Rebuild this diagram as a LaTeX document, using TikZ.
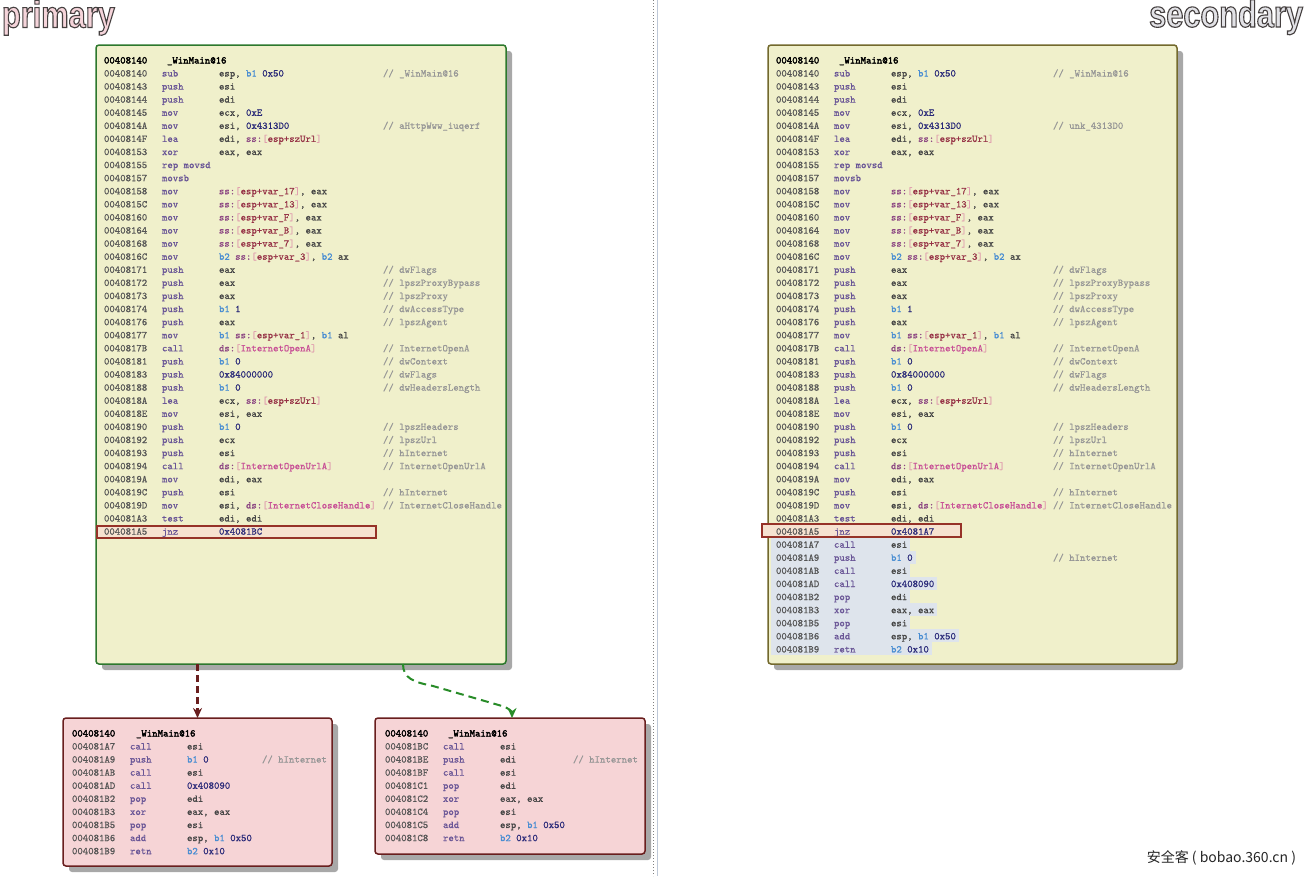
\documentclass[tikz,border=0pt]{standalone}
\usepackage{fontspec}
\usetikzlibrary{arrows.meta,shadows}
\newfontfamily\codefont{Latin Modern Mono}[FakeBold=0.6]
\newfontfamily\hdrfont{Latin Modern Mono}[FakeBold=2.5]
\newfontfamily\lblfont{Liberation Sans}[FakeStretch=0.82]
\newfontfamily\cjk{Noto Sans CJK SC}
\definecolor{cyel}{RGB}{240,240,203}
\definecolor{cgreen}{RGB}{45,120,45}
\definecolor{colive}{RGB}{115,105,45}
\definecolor{cpinkbox}{RGB}{246,212,214}
\definecolor{cdred}{RGB}{105,30,30}
\definecolor{cshadow}{RGB}{168,168,168}
\definecolor{caddr}{RGB}{85,85,85}
\definecolor{cmn}{RGB}{105,85,150}
\definecolor{creg}{RGB}{70,70,70}
\definecolor{cbb}{RGB}{70,140,210}
\definecolor{cnum}{RGB}{40,40,120}
\definecolor{cseg}{RGB}{140,70,130}
\definecolor{cbrk}{RGB}{225,160,175}
\definecolor{cmemc}{RGB}{150,50,70}
\definecolor{cimp}{RGB}{200,80,150}
\definecolor{ccom}{RGB}{150,150,150}
\definecolor{chlred}{RGB}{150,50,40}
\definecolor{chlfill}{RGB}{246,226,208}
\definecolor{crowhl}{RGB}{222,228,236}
\definecolor{cpinklbl}{RGB}{245,212,218}
\definecolor{cgreylbl}{RGB}{226,226,230}
\definecolor{cdiv}{RGB}{190,200,215}
\definecolor{carrg}{RGB}{40,140,40}
\newcommand\opB[1]{\textcolor{cbb}{#1}}
\newcommand\opN[1]{\textcolor{cnum}{#1}}
\newcommand\opS[1]{\textcolor{cseg}{#1}}
\newcommand\opM[1]{\textcolor{cbrk}{[}\textcolor{cmemc}{#1}\textcolor{cbrk}{]}}
\newcommand\opI[1]{\textcolor{cbrk}{[}\textcolor{cimp}{#1}\textcolor{cbrk}{]}}
\newcommand\outl[1]{\special{pdf:literal direct 2 Tr 1.1 w 0.27 0.25 0.25 RG}#1\special{pdf:literal direct 0 Tr}}
\newcounter{ln}
\newif\ifhl
\newcommand\boxcols[3]{\def\cA{#1}\def\cC{#2}\def\yb{#3}}
\newcommand\Rw[5]{%
  \stepcounter{ln}%
  \pgfmathsetmacro\yy{\yb+13.09*(#1)+3.5}%
  \node[sAddr] (a\arabic{ln}) at (\cA,\yy) {#2};
  \node[sMn] (m\arabic{ln}) at (\cA+58,\yy) {#3};
  \if\relax\detokenize{#4}\relax\else
    \node[sOp] (o\arabic{ln}) at (\cA+115,\yy) {#4};
    \ifhl
      \begin{pgfonlayer}{mid}
        \fill[crowhl] (771,\yy-10) rectangle ([xshift=3pt]o\arabic{ln}.east |- 0,\yy+3);
      \end{pgfonlayer}
    \fi
  \fi
  \if\relax\detokenize{#5}\relax\else
    \node[sCm] (c\arabic{ln}) at (\cC,\yy) {#5};
  \fi
}
\newcommand\mainrows[2]{%
  \Rw{0}{00408140}{sub}{esp, \opB{b1} \opN{0x50}}{// \_WinMain@16}
  \Rw{1}{00408143}{push}{esi}{}
  \Rw{2}{00408144}{push}{edi}{}
  \Rw{3}{00408145}{mov}{ecx, \opN{0xE}}{}
  \Rw{4}{0040814A}{mov}{esi, \opN{0x4313D0}}{// #1}
  \Rw{5}{0040814F}{lea}{edi, \opS{ss:}\opM{esp+szUrl}}{}
  \Rw{6}{00408153}{xor}{eax, eax}{}
  \Rw{7}{00408155}{rep movsd}{}{}
  \Rw{8}{00408157}{movsb}{}{}
  \Rw{9}{00408158}{mov}{\opS{ss:}\opM{esp+var\_17}, eax}{}
  \Rw{10}{0040815C}{mov}{\opS{ss:}\opM{esp+var\_13}, eax}{}
  \Rw{11}{00408160}{mov}{\opS{ss:}\opM{esp+var\_F}, eax}{}
  \Rw{12}{00408164}{mov}{\opS{ss:}\opM{esp+var\_B}, eax}{}
  \Rw{13}{00408168}{mov}{\opS{ss:}\opM{esp+var\_7}, eax}{}
  \Rw{14}{0040816C}{mov}{\opB{b2} \opS{ss:}\opM{esp+var\_3}, \opB{b2} ax}{}
  \Rw{15}{00408171}{push}{eax}{// dwFlags}
  \Rw{16}{00408172}{push}{eax}{// lpszProxyBypass}
  \Rw{17}{00408173}{push}{eax}{// lpszProxy}
  \Rw{18}{00408174}{push}{\opB{b1} \opN{1}}{// dwAccessType}
  \Rw{19}{00408176}{push}{eax}{// lpszAgent}
  \Rw{20}{00408177}{mov}{\opB{b1} \opS{ss:}\opM{esp+var\_1}, \opB{b1} al}{}
  \Rw{21}{0040817B}{call}{\opS{ds:}\opI{InternetOpenA}}{// InternetOpenA}
  \Rw{22}{00408181}{push}{\opB{b1} \opN{0}}{// dwContext}
  \Rw{23}{00408183}{push}{\opN{0x84000000}}{// dwFlags}
  \Rw{24}{00408188}{push}{\opB{b1} \opN{0}}{// dwHeadersLength}
  \Rw{25}{0040818A}{lea}{ecx, \opS{ss:}\opM{esp+szUrl}}{}
  \Rw{26}{0040818E}{mov}{esi, eax}{}
  \Rw{27}{00408190}{push}{\opB{b1} \opN{0}}{// lpszHeaders}
  \Rw{28}{00408192}{push}{ecx}{// lpszUrl}
  \Rw{29}{00408193}{push}{esi}{// hInternet}
  \Rw{30}{00408194}{call}{\opS{ds:}\opI{InternetOpenUrlA}}{// InternetOpenUrlA}
  \Rw{31}{0040819A}{mov}{edi, eax}{}
  \Rw{32}{0040819C}{push}{esi}{// hInternet}
  \Rw{33}{0040819D}{mov}{esi, \opS{ds:}\opI{InternetCloseHandle}}{// InternetCloseHandle}
  \Rw{34}{004081A3}{test}{edi, edi}{}
  \Rw{35}{004081A5}{jnz}{\opN{#2}}{}
}
\newcommand\tailrows{%
  \Rw{0}{004081A7}{call}{esi}{}
  \Rw{1}{004081A9}{push}{\opB{b1} \opN{0}}{// hInternet}
  \Rw{2}{004081AB}{call}{esi}{}
  \Rw{3}{004081AD}{call}{\opN{0x408090}}{}
  \Rw{4}{004081B2}{pop}{edi}{}
  \Rw{5}{004081B3}{xor}{eax, eax}{}
  \Rw{6}{004081B5}{pop}{esi}{}
  \Rw{7}{004081B6}{add}{esp, \opB{b1} \opN{0x50}}{}
  \Rw{8}{004081B9}{retn}{\opB{b2} \opN{0x10}}{}
}
\pgfdeclarelayer{bg}
\pgfdeclarelayer{mid}
\pgfsetlayers{bg,mid,main}
\begin{document}
\begin{tikzpicture}[x=1pt,y=-1pt,
  every node/.style={inner sep=0pt,outer sep=0pt},
  sAddr/.style={anchor=base west,text=caddr,font=\codefont\fontsize{10.3}{12}\selectfont},
  sMn/.style={anchor=base west,text=cmn,font=\codefont\fontsize{10.3}{12}\selectfont},
  sOp/.style={anchor=base west,text=creg,font=\codefont\fontsize{10.3}{12}\selectfont},
  sCm/.style={anchor=base west,text=ccom,font=\codefont\fontsize{10.3}{12}\selectfont},
  sHdr/.style={anchor=base west,text=black,font=\hdrfont\fontsize{10.3}{12}\selectfont},
  boxbase/.style={anchor=north west,line width=1.5pt,rounded corners=3pt,
    drop shadow={shadow xshift=6pt,shadow yshift=-6pt,fill=cshadow,opacity=1}},
  greenbox/.style={boxbase,draw=cgreen,fill=cyel},
  olivebox/.style={boxbase,draw=colive,fill=cyel},
  pinkbox/.style={boxbase,draw=cdred,fill=cpinkbox},
  hlrect/.style={draw=chlred,line width=1.8pt},
  redarr/.style={draw=cdred,line width=2.2pt,dash pattern=on 7pt off 4pt,
    -{Stealth[length=10pt,width=9pt]}},
  grnarr/.style={draw=carrg,line width=2pt,dash pattern=on 8pt off 5pt,
    -{Stealth[length=10pt,width=9pt]}},
  lbl/.style={font=\lblfont\bfseries\fontsize{37.5}{40}\selectfont}
]
\useasboundingbox (0,0) rectangle (1309,876);

% boxes
\begin{pgfonlayer}{bg}
\fill[white] (0,0) rectangle (1309,876);
\draw[gray,line width=1pt,dotted] (653,0) -- (653,876);
\draw[cdiv,line width=1pt] (657,0) -- (657,876);
\node[greenbox,minimum width=410pt,minimum height=619pt] (mainL) at (96,45) {};
\node[olivebox,minimum width=409pt,minimum height=619pt] (mainR) at (768,45) {};
\node[pinkbox,minimum width=269pt,minimum height=148pt] (botL) at (63,718) {};
\node[pinkbox,minimum width=270pt,minimum height=136pt] (botR) at (375,718) {};
\end{pgfonlayer}

% titles
\node[lbl,anchor=base west,text=cpinklbl] (tprim) at (2,27.5) {\outl{primary}};
\node[lbl,anchor=base east,text=cgreylbl] (tsec) at (1303,27) {\outl{secondary}};

% jnz highlight fills
\begin{pgfonlayer}{mid}
\fill[chlfill] (97,526) rectangle (376,538);
\fill[chlfill] (762,524) rectangle (961,537);
\end{pgfonlayer}

% left main box
\node[sHdr] (hL1) at (104,63.5) {00408140};
\node[sHdr] (hL2) at (167,63.5) {\_WinMain@16};
\boxcols{104}{383}{73}
\mainrows{aHttpWww\_iuqerf}{0x4081BC}

% right main box
\node[sHdr] (hR1) at (776,63.5) {00408140};
\node[sHdr] (hR2) at (839,63.5) {\_WinMain@16};
\boxcols{776}{1053}{73}
\mainrows{unk\_4313D0}{0x4081A7}
\hltrue
\boxcols{776}{1053}{544.24}
\tailrows
\hlfalse

% bottom left box
\node[sHdr] (hB1) at (72,736.5) {00408140};
\node[sHdr] (hB2) at (136,736.5) {\_WinMain@16};
\boxcols{72}{262}{746}
\tailrows

% bottom right box
\node[sHdr] (hC1) at (385,736.5) {00408140};
\node[sHdr] (hC2) at (448,736.5) {\_WinMain@16};
\boxcols{385}{573}{746}
\Rw{0}{004081BC}{call}{esi}{}
\Rw{1}{004081BE}{push}{edi}{// hInternet}
\Rw{2}{004081BF}{call}{esi}{}
\Rw{3}{004081C1}{pop}{edi}{}
\Rw{4}{004081C2}{xor}{eax, eax}{}
\Rw{5}{004081C4}{pop}{esi}{}
\Rw{6}{004081C5}{add}{esp, \opB{b1} \opN{0x50}}{}
\Rw{7}{004081C8}{retn}{\opB{b2} \opN{0x10}}{}

% jnz red rectangles
\draw[hlrect] (97,526) rectangle (376,538);
\draw[hlrect] (762,524) rectangle (961,537);

% connectors
\draw[redarr] (mainL.south -| botL.north) -- (botL.north);
\coordinate (gs) at ([xshift=102pt]mainL.south);
\coordinate (ge) at ([xshift=2pt]botR.north);
\draw[grnarr] (gs) .. controls ([yshift=-14pt]gs) and ([xshift=10pt,yshift=-18pt]gs) .. ([xshift=30pt,yshift=-22pt]gs)
  -- ([xshift=-10pt,yshift=12pt]ge) .. controls ([xshift=-3pt,yshift=10pt]ge) and ([yshift=6pt]ge) .. (ge);

% watermark
\node[anchor=base east,text=black!85,font=\cjk\fontsize{14}{16}\selectfont] (wm) at (1296,862) {安全客 ( bobao.360.cn )};
\end{tikzpicture}
\end{document}
